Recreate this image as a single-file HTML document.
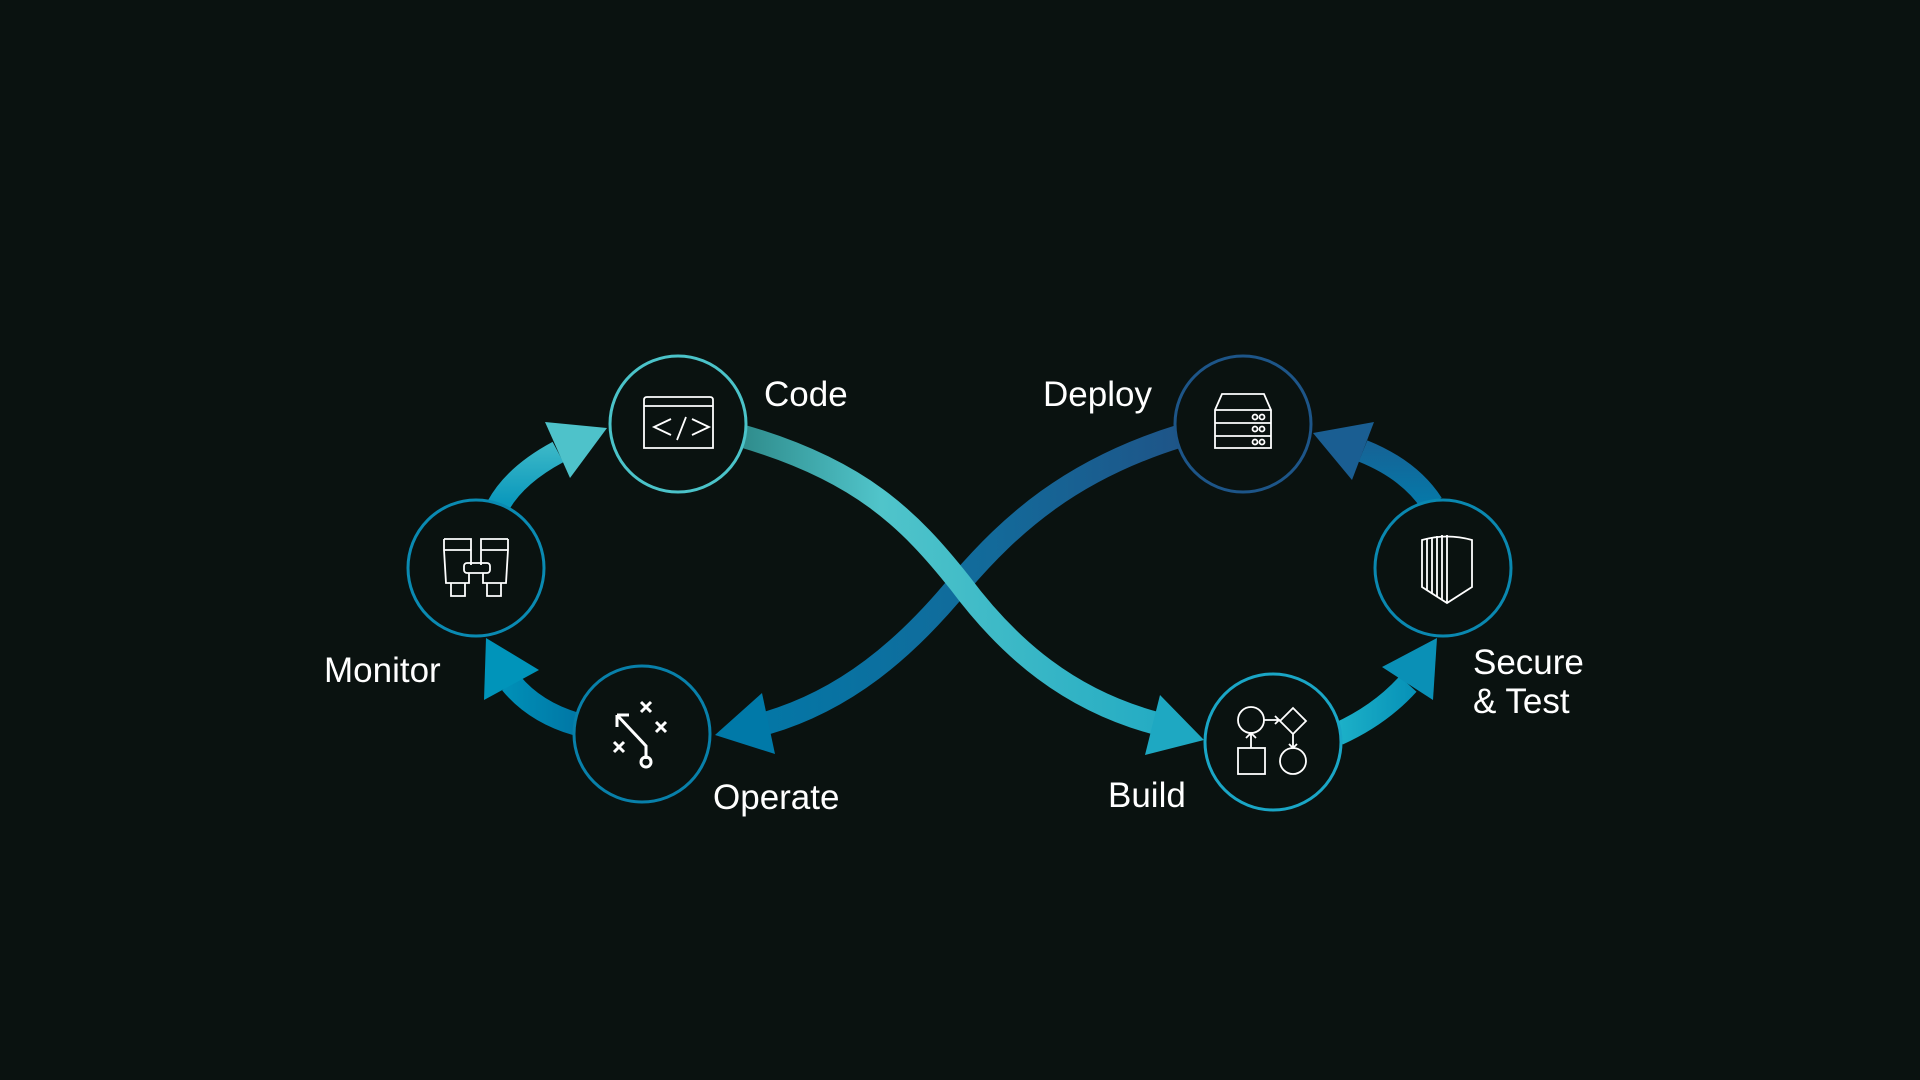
<!DOCTYPE html>
<html><head><meta charset="utf-8"><style>
html,body{margin:0;padding:0;background:#0a1210;}
svg{display:block}
text{font-family:"Liberation Sans",sans-serif;fill:#fff;font-size:35px;}
</style></head><body>
<svg width="1920" height="1080" viewBox="0 0 1920 1080" xmlns="http://www.w3.org/2000/svg">
<defs>
<linearGradient id="g1" x1="743" y1="0" x2="1200" y2="0" gradientUnits="userSpaceOnUse">
<stop offset="0" stop-color="#2f8c8c"/><stop offset="0.3" stop-color="#50c4ca"/><stop offset="1" stop-color="#1ea8c2"/></linearGradient>
<linearGradient id="g2" x1="713" y1="0" x2="1177" y2="0" gradientUnits="userSpaceOnUse">
<stop offset="0" stop-color="#0079a8"/><stop offset="0.6" stop-color="#136a9a"/><stop offset="1" stop-color="#1e5588"/></linearGradient>
<linearGradient id="g3" x1="0" y1="503" x2="0" y2="420" gradientUnits="userSpaceOnUse">
<stop offset="0" stop-color="#0a98bc"/><stop offset="1" stop-color="#52c6cc"/></linearGradient>
<linearGradient id="g4" x1="573" y1="0" x2="486" y2="0" gradientUnits="userSpaceOnUse">
<stop offset="0" stop-color="#0078a6"/><stop offset="1" stop-color="#0096bc"/></linearGradient>
<linearGradient id="g5" x1="1340" y1="0" x2="1437" y2="0" gradientUnits="userSpaceOnUse">
<stop offset="0" stop-color="#1cb0c8"/><stop offset="1" stop-color="#0088b2"/></linearGradient>
<linearGradient id="g6" x1="0" y1="502" x2="0" y2="420" gradientUnits="userSpaceOnUse">
<stop offset="0" stop-color="#0678a8"/><stop offset="1" stop-color="#1c5a8e"/></linearGradient>
</defs>

<!-- Deploy -> Operate -->
<path d="M1180,436 C1070,470 1010,525 960,583 C905,650 845,700 767,723" fill="none" stroke="url(#g2)" stroke-width="23"/>
<polygon points="715,735 762,693 775,754" fill="#0079a8"/>
<!-- Code -> Build -->
<path d="M742,436 C860,470 910,520 960,583 C1010,650 1070,700 1155,723" fill="none" stroke="url(#g1)" stroke-width="23"/>
<polygon points="1204,740 1160,695 1145,755" fill="#1ea8c2"/>

<!-- small arcs -->
<path d="M498,506 Q515,475 558,452" fill="none" stroke="url(#g3)" stroke-width="23"/>
<polygon points="607,428 545,422 570,478" fill="#4ec2ca"/>
<path d="M576,724 Q535,712 511,683" fill="none" stroke="url(#g4)" stroke-width="23"/>
<polygon points="486,638 484,700 539,670" fill="#0094ba"/>
<path d="M1338,734 Q1380,715 1408,684" fill="none" stroke="url(#g5)" stroke-width="23"/>
<polygon points="1437,638 1382,667 1433,700" fill="#0a90b6"/>
<path d="M1432,504 Q1410,470 1363,451" fill="none" stroke="url(#g6)" stroke-width="23"/>
<polygon points="1313,433 1374,422 1352,480" fill="#1a5e92"/>

<!-- circles -->
<g fill="#0a1210" stroke-width="3">
<circle cx="678" cy="424" r="68" stroke="#4bc3c9"/>
<circle cx="476" cy="568" r="68" stroke="#0a8ab2"/>
<circle cx="642" cy="734" r="68" stroke="#0880aa"/>
<circle cx="1243" cy="424" r="68" stroke="#1d5588"/>
<circle cx="1443" cy="568" r="68" stroke="#0a88b0"/>
<circle cx="1273" cy="742" r="68" stroke="#1aa6c6"/>
</g>

<!-- icons -->
<g fill="none" stroke="#fff" stroke-width="1.8">
<path d="M644,448 V400 Q644,397 647,397 H710 Q713,397 713,400 V448 Z M644,406 H713"/>
<path d="M671,419 L654,427 L671,435 M686,417 L677,440 M692,419 L709,427 L692,435"/>
<path d="M444,539 H471 V565 M444,539 V550 H471 M444,550 L446,583 H469 V573 M508,539 H481 V565 M508,539 V550 H481 M508,550 L506,583 H483 V573"/>
<rect x="464" y="563" width="26" height="10" rx="3"/>
<path d="M451,583 V596 H465 V583 M487,583 V596 H501 V583"/>
<g stroke-width="3"><path d="M617,715 L646,746 V759 M617,715 V727 M617,715 H629"/><circle cx="646" cy="762" r="5"/>
<path d="M641,702 L651,712 M651,702 L641,712 M656,722 L666,732 M666,722 L656,732 M614,742 L624,752 M624,742 L614,752"/></g>
<path d="M1215,448 V410 L1222,394 H1264 L1271,410 V448 Z M1215,410 H1271 M1215,423 H1271 M1215,436 H1271"/>
<circle cx="1255" cy="417" r="2.5"/><circle cx="1262" cy="417" r="2.5"/>
<circle cx="1255" cy="429" r="2.5"/><circle cx="1262" cy="429" r="2.5"/>
<circle cx="1255" cy="442" r="2.5"/><circle cx="1262" cy="442" r="2.5"/>
<path d="M1422,540 Q1447,533 1472,540 V587 L1447,603 L1422,587 Z"/>
<path d="M1427,538 V590 M1432,537 V594 M1437,536 V597 M1442,535 V600 M1447,535 V603"/>
<circle cx="1251" cy="720" r="13"/><rect x="1238" y="748" width="27" height="26"/><circle cx="1293" cy="761" r="13"/>
<path d="M1293,708 L1306,721 L1293,734 L1280,721 Z M1264,720 H1280 M1275,716 L1279,720 L1275,724 M1251,733 V748 M1246,738 L1251,733 L1256,738 M1293,734 V748 M1289,744 L1293,748 L1297,744"/>
</g>

<!-- labels -->
<text x="764" y="406">Code</text>
<text x="1043" y="406">Deploy</text>
<text x="324" y="682">Monitor</text>
<text x="713" y="809">Operate</text>
<text x="1108" y="807">Build</text>
<text x="1473" y="674">Secure</text>
<text x="1473" y="713">&amp; Test</text>
</svg>
</body></html>
